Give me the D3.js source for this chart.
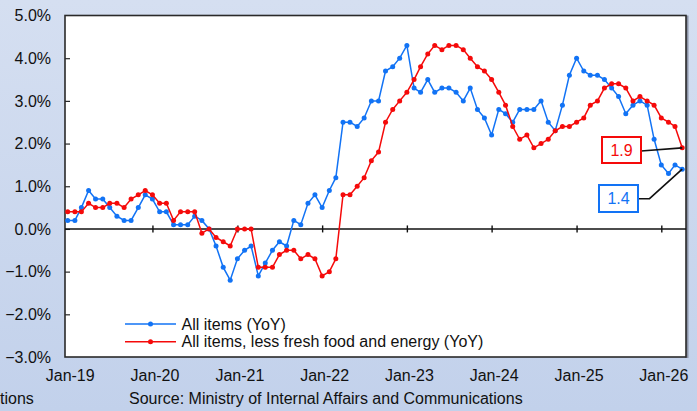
<!DOCTYPE html>
<html>
<head>
<meta charset="utf-8">
<script src="https://cdn.jsdelivr.net/npm/d3@7"></script>
<style>
  body { margin: 0; }
  svg { display: block; font-family: Arial, "Liberation Sans", sans-serif; }
</style>
</head>
<body>
<div class="cpi-plot"></div>
<script>
// monthly YoY, Jan-19 .. Apr-26
const allItems = [
  0.2, 0.2, 0.5, 0.9, 0.7, 0.7, 0.5, 0.3, 0.2, 0.2, 0.5, 0.8,
  0.7, 0.4, 0.4, 0.1, 0.1, 0.1, 0.3, 0.2, 0.0, -0.4, -0.9, -1.2,
  -0.7, -0.5, -0.4, -1.1, -0.8, -0.5, -0.3, -0.4, 0.2, 0.1, 0.6, 0.8,
  0.5, 0.9, 1.2, 2.5, 2.5, 2.4, 2.6, 3.0, 3.0, 3.7, 3.8, 4.0,
  4.3, 3.3, 3.2, 3.5, 3.2, 3.3, 3.3, 3.2, 3.0, 3.3, 2.8, 2.6,
  2.2, 2.8, 2.7, 2.5, 2.8, 2.8, 2.8, 3.0, 2.5, 2.3, 2.9, 3.6,
  4.0, 3.7, 3.6, 3.6, 3.5, 3.3, 3.1, 2.7, 2.9, 3.0, 2.9, 2.1,
  1.5, 1.3, 1.5, 1.4
];
const lessFoodEnergy = [
  0.4, 0.4, 0.4, 0.6, 0.5, 0.5, 0.6, 0.6, 0.5, 0.7, 0.8, 0.9,
  0.8, 0.6, 0.6, 0.2, 0.4, 0.4, 0.4, -0.1, 0.0, -0.2, -0.3, -0.4,
  0.0, 0.0, 0.0, -0.9, -0.9, -0.9, -0.6, -0.5, -0.5, -0.7, -0.6, -0.7,
  -1.1, -1.0, -0.7, 0.8, 0.8, 1.0, 1.2, 1.6, 1.8, 2.5, 2.8, 3.0,
  3.2, 3.5, 3.8, 4.1, 4.3, 4.2, 4.3, 4.3, 4.2, 4.0, 3.8, 3.7,
  3.5, 3.2, 2.9, 2.4, 2.1, 2.2, 1.9, 2.0, 2.1, 2.3, 2.4, 2.4,
  2.5, 2.6, 2.9, 3.0, 3.3, 3.4, 3.4, 3.3, 3.0, 3.1, 3.0, 2.9,
  2.6, 2.5, 2.4, 1.9
];
const tickLabels = ["Jan-19", "Jan-20", "Jan-21", "Jan-22", "Jan-23", "Jan-24", "Jan-25", "Jan-26"];
const yTicks = [-3, -2, -1, 0, 1, 2, 3, 4, 5];
const seriesNames = ["All items (YoY)", "All items, less fresh food and energy (YoY)"];

const months = d3.timeMonth.range(new Date(2019, 0, 1), new Date(2019, allItems.length, 1));
const tickDates = tickLabels.map((t, i) => new Date(2019 + i, 0, 1));

const w = 697;
const h = 411;
const blue = "#1273f5";
const red = "#f50a0a";
const fs = 16;

const svg = d3.select('.cpi-plot')
                .append('svg')
                .attr('width', w)
                .attr('height', h);

//background
const grad = svg.append("defs").append("linearGradient")
    .attr("id", "bg").attr("x1", 0).attr("y1", 0).attr("x2", 0).attr("y2", 1);
grad.append("stop").attr("offset", "0%").attr("stop-color", "#d5dff1");
grad.append("stop").attr("offset", "100%").attr("stop-color", "#c2d1eb");
svg.append("rect").attr("width", w).attr("height", h).attr("fill", "url(#bg)");

//plot area
const plotL = 65, plotR = 686, plotT = 15.5, plotB = 357;
svg.append("rect")
    .attr("x", plotR - 1).attr("y", plotT).attr("width", 3.5).attr("height", plotB - plotT + 1)
    .attr("fill", "#8b93a6");
svg.append("rect")
    .attr("x", plotL).attr("y", plotT).attr("width", plotR - plotL).attr("height", plotB - plotT)
    .attr("fill", "white")
    .attr("stroke", "#2a2a2a")
    .attr("stroke-width", 1.6);

const x = d3.scaleTime()
    .domain([months[0], months[months.length - 1]])
    .range([67.7, 682.2]);
const y = d3.scaleLinear()
    .domain([-3, 5])
    .range([plotB, plotT]);

//y axis ticks and labels
svg.append("g")
    .attr("transform", `translate(${plotL},0)`)
    .call(d3.axisRight(y).tickValues(yTicks.slice(1, -1)).tickSize(5).tickFormat(""))
    .call(g => g.select(".domain").remove())
    .call(g => g.selectAll("line").attr("stroke", "#2a2a2a").attr("stroke-width", 1.2));

svg.append("g")
    .selectAll("text")
    .data(yTicks)
    .enter()
    .append("text")
    .attr("x", 51)
    .attr("y", d => y(d))
    .attr("dy", "0.36em")
    .attr("text-anchor", "end")
    .attr("font-size", fs)
    .attr("fill", "#111")
    .text(d => d3.format(".1f")(d) + "%");

//zero line with ticks both sides
svg.append("line")
    .attr("x1", plotL).attr("x2", plotR)
    .attr("y1", y(0)).attr("y2", y(0))
    .attr("stroke", "#111").attr("stroke-width", 1.4);
[d3.axisBottom, d3.axisTop].forEach(ax => {
    svg.append("g")
        .attr("transform", `translate(0,${y(0)})`)
        .call(ax(x).tickValues(tickDates.slice(1)).tickSize(3.5).tickFormat(""))
        .call(g => g.select(".domain").remove())
        .call(g => g.selectAll("line").attr("stroke", "#111").attr("stroke-width", 1.4));
});

//x labels
svg.append("g")
    .attr("transform", `translate(0,${plotB})`)
    .call(d3.axisBottom(x).tickValues(tickDates).tickSize(0).tickPadding(13)
        .tickFormat((d, i) => tickLabels[i]))
    .call(g => g.select(".domain").remove())
    .call(g => g.selectAll("text")
        .attr("font-size", fs)
        .attr("font-family", "Arial, 'Liberation Sans', sans-serif")
        .attr("fill", "#111")
        .attr("dx", 2));

//lines and points
const line = d3.line()
    .x((d, i) => x(months[i]))
    .y(d => y(d));

[[allItems, blue], [lessFoodEnergy, red]].forEach(([vals, col]) => {
    svg.append("path")
        .datum(vals)
        .attr("d", line)
        .attr("fill", "none")
        .attr("stroke", col)
        .attr("stroke-width", 1.5);
    svg.append("g")
        .selectAll("circle")
        .data(vals)
        .enter()
        .append("circle")
        .attr("cx", (d, i) => x(months[i]))
        .attr("cy", d => y(d))
        .attr("r", 2.5)
        .attr("fill", col);
});

//legend
const legend = svg.append("g");
[blue, red].forEach((col, i) => {
    const ly = 324 + i * 17.7;
    legend.append("line")
        .attr("x1", 125).attr("x2", 176).attr("y1", ly).attr("y2", ly)
        .attr("stroke", col).attr("stroke-width", 1.5);
    legend.append("circle")
        .attr("cx", 150.5).attr("cy", ly).attr("r", 2.5).attr("fill", col);
    legend.append("text")
        .attr("x", 181.5).attr("y", ly)
        .attr("dy", "0.36em")
        .attr("font-size", fs)
        .attr("fill", "#111")
        .text(seriesNames[i]);
});

//callouts for latest values
const last = months.length - 1;
const callouts = [
    {val: lessFoodEnergy[last], col: red, bx: 602, by: 137, bw: 39, bh: 26,
     path: [[641, 151]]},
    {val: allItems[last], col: blue, bx: 599, by: 185, bw: 39, bh: 27,
     path: [[638, 198.7], [649.5, 198.7]]}
];
callouts.forEach(c => {
    const pts = c.path.concat([[x(months[last]), y(c.val)]]);
    svg.append("path")
        .attr("d", d3.line()(pts))
        .attr("fill", "none")
        .attr("stroke", "#111")
        .attr("stroke-width", 1.6);
    svg.append("rect")
        .attr("x", c.bx).attr("y", c.by).attr("width", c.bw).attr("height", c.bh)
        .attr("fill", "white")
        .attr("stroke", c.col)
        .attr("stroke-width", 2);
    svg.append("text")
        .attr("x", c.bx + c.bw / 2).attr("y", c.by + c.bh / 2)
        .attr("dy", "0.36em")
        .attr("text-anchor", "middle")
        .attr("font-size", fs)
        .attr("fill", c.col)
        .text(c.val.toFixed(1));
});

//footer
svg.append("text")
    .attr("x", 0).attr("y", 404)
    .attr("font-size", fs).attr("fill", "#111")
    .text("tions");
svg.append("text")
    .attr("x", 129).attr("y", 404)
    .attr("font-size", fs).attr("fill", "#111")
    .text("Source: Ministry of Internal Affairs and Communications");
</script>
</body>
</html>
